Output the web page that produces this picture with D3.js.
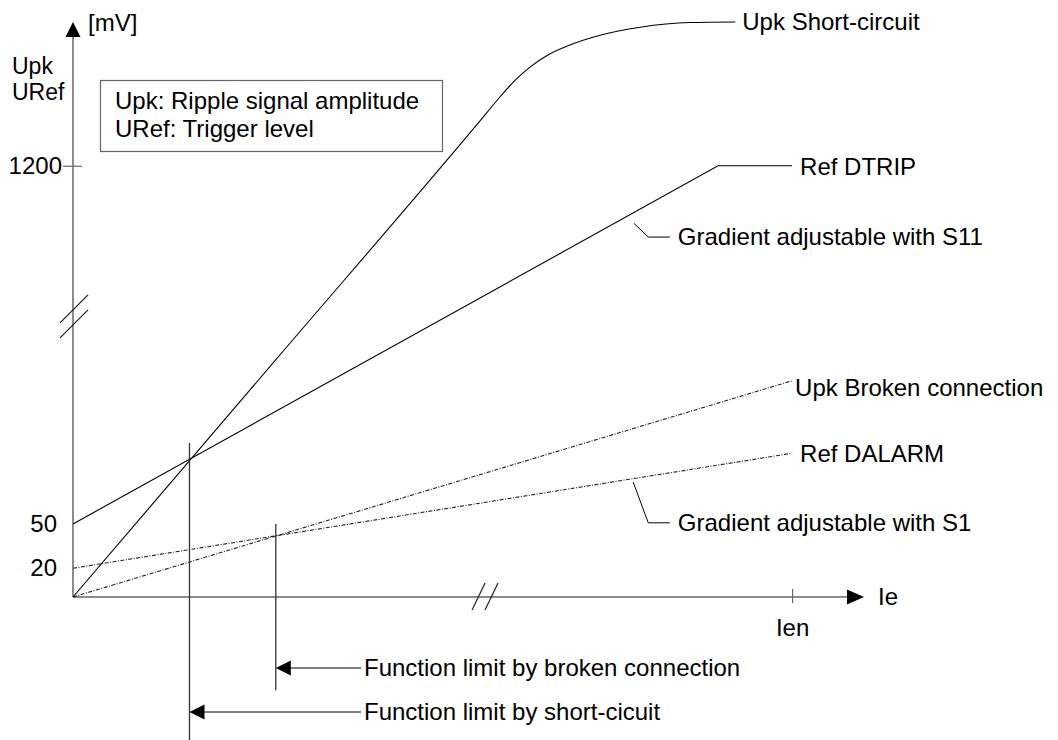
<!DOCTYPE html>
<html>
<head>
<meta charset="utf-8">
<script src="https://cdn.jsdelivr.net/npm/d3@7"></script>
<style>
  html, body { margin: 0; padding: 0; background: #fff; }
  svg { display: block; }
  text { font-family: "Liberation Sans", Arial, sans-serif; font-size: 24px; fill: #000; }
</style>
</head>
<body>
<svg id="chart" width="1058" height="740"></svg>
<script>
// Schematic units: x = Ie (Ien = 100), y = display height (0..100, axis broken)
const xTickValues = [100];
const xTickLabels = ['Ien'];
const yTickValues = [5, 12.7, 75];
const yTickLabels = ['20', '50', '1200'];

// curves
const upkShortCircuit = [[0, 0], [28.3, 41.4], [56.6, 82.8], [59.4, 87.0], [61.5, 89.9],
  [63.6, 92.2], [66.1, 94.3], [69.1, 96.0], [73.3, 97.7], [78.9, 99.1], [85.8, 99.9], [92.1, 100]];
const refDtrip = [[0, 12.7], [89.7, 75.0], [100, 75.0]];
const upkBroken = [[0, 0], [100, 37.6]];
const refDalarm = [[0, 5], [100, 25]];

// leaders for the gradient notes
const gradS11 = [[78.0, 65.0], [80.0, 62.6], [83.0, 62.6]];
const gradS1 = [[77.9, 20.0], [80.0, 12.9], [83.0, 12.9]];

// function limits (vertical markers)
const limitLabels = ['Function limit by broken connection', 'Function limit by short-cicuit'];
const limitX = [28.2, 16.2];
const limitTop = [12.7, 26.8];
const limitBottom = [-16.2, -26];
const limitArrowY = [-12.35, -20];
const limitLeaderEnd = 40.05;

const svg = d3.select('#chart');
const x = d3.scaleLinear().domain([0, 110]).range([73, 864]);
const y = d3.scaleLinear().domain([0, 100]).range([597, 22]);
const line = d3.line().x(d => x(d[0])).y(d => y(d[1]));

const axisColor = '#666';

// =========================================
// AXES
// =========================================
const axesG = svg.append('g');

axesG.append('line')
  .attr('x1', x(0)).attr('y1', y(0))
  .attr('x2', x(0)).attr('y2', y(100) + 10)
  .attr('stroke', axisColor).attr('stroke-width', 1.5);
axesG.append('path')
  .attr('d', `M${x(0)},${y(100)} L${x(0) - 7.5},${y(100) + 15} L${x(0) + 7.5},${y(100) + 15} Z`)
  .attr('fill', '#000');

axesG.append('line')
  .attr('x1', x(0)).attr('y1', y(0))
  .attr('x2', x(110) - 10).attr('y2', y(0))
  .attr('stroke', axisColor).attr('stroke-width', 1.5);
axesG.append('path')
  .attr('d', `M${x(110)},${y(0)} L${x(110) - 17},${y(0) - 7.5} L${x(110) - 17},${y(0) + 7.5} Z`)
  .attr('fill', '#000');

// y ticks via axis, only the 1200 mark keeps a tick line
const yAxisG = axesG.append('g')
  .attr('transform', `translate(${x(0)},0)`)
  .call(d3.axisLeft(y).tickValues(yTickValues).tickSize(0).tickPadding(16)
    .tickFormat((d, i) => yTickLabels[i]));
yAxisG.select('.domain').remove();
yAxisG.selectAll('.tick text').attr('font-size', 24).attr('fill', '#000')
  .attr('font-family', '"Liberation Sans", Arial, sans-serif')
  .attr('dx', (d, i) => i === 2 ? 5 : 0);
yAxisG.selectAll('.tick').filter((d, i) => i === 2).append('line')
  .attr('x1', -10).attr('x2', 9).attr('stroke', axisColor).attr('stroke-width', 1.2);

const xAxisG = axesG.append('g')
  .attr('transform', `translate(0,${y(0)})`)
  .call(d3.axisBottom(x).tickValues(xTickValues).tickSize(0).tickPadding(22)
    .tickFormat((d, i) => xTickLabels[i]));
xAxisG.select('.domain').remove();
xAxisG.selectAll('.tick text').attr('font-size', 24).attr('fill', '#000')
  .attr('font-family', '"Liberation Sans", Arial, sans-serif');
xAxisG.selectAll('.tick').append('line')
  .attr('y1', -8).attr('y2', 6).attr('stroke', axisColor).attr('stroke-width', 1.2);

// break marks
[50.1, 47.5].forEach(v => {
  axesG.append('line')
    .attr('x1', x(0) - 13).attr('y1', y(v) + 14)
    .attr('x2', x(0) + 15).attr('y2', y(v) - 14)
    .attr('stroke', '#222').attr('stroke-width', 1.2);
});
[56.4, 58.2].forEach(v => {
  axesG.append('line')
    .attr('x1', x(v) - 6.5).attr('y1', y(0) + 13)
    .attr('x2', x(v) + 6.5).attr('y2', y(0) - 14)
    .attr('stroke', '#222').attr('stroke-width', 1.2);
});

// axis captions
axesG.append('text').attr('x', x(0) + 15).attr('y', 31).text('[mV]');
axesG.append('text').attr('x', 12).attr('y', 74).style('font-size', '23px').text('Upk');
axesG.append('text').attr('x', 12).attr('y', 100).style('font-size', '23px').text('URef');
axesG.append('text').attr('x', x(110) + 14).attr('y', y(0) + 8).text('Ie');

// legend box
svg.append('rect')
  .attr('x', 100.5).attr('y', 80.5).attr('width', 342).attr('height', 71)
  .attr('fill', 'none').attr('stroke', axisColor).attr('stroke-width', 1.2);
svg.append('text').attr('x', 115).attr('y', 109).text('Upk: Ripple signal amplitude');
svg.append('text').attr('x', 115).attr('y', 137).text('URef: Trigger level');

// =========================================
// CURVES
// =========================================
const curvesG = svg.append('g').attr('fill', 'none');

curvesG.append('path')
  .attr('d', line.curve(d3.curveMonotoneX)(upkShortCircuit))
  .attr('stroke', '#000').attr('stroke-width', 1.1);
line.curve(d3.curveLinear);

curvesG.append('path').attr('d', line(refDtrip))
  .attr('stroke', '#000').attr('stroke-width', 1.1);

[upkBroken, refDalarm].forEach(pts => {
  curvesG.append('path').attr('d', line(pts))
    .attr('stroke', '#222').attr('stroke-width', 1.1)
    .attr('stroke-dasharray', '4,1.5,1,1.5');
});

[gradS11, gradS1].forEach(pts => {
  curvesG.append('path').attr('d', line(pts))
    .attr('stroke', '#000').attr('stroke-width', 1);
});

// curve labels
const lastOf = arr => arr[arr.length - 1];
svg.append('text').attr('x', x(lastOf(upkShortCircuit)[0]) + 7).attr('y', y(lastOf(upkShortCircuit)[1]) + 8)
  .text('Upk Short-circuit');
svg.append('text').attr('x', x(lastOf(refDtrip)[0]) + 8).attr('y', y(lastOf(refDtrip)[1]) + 9)
  .text('Ref DTRIP');
svg.append('text').attr('x', x(lastOf(gradS11)[0]) + 8).attr('y', y(lastOf(gradS11)[1]) + 8)
  .text('Gradient adjustable with S11');
svg.append('text').attr('x', x(lastOf(upkBroken)[0]) + 3).attr('y', y(lastOf(upkBroken)[1]) + 15)
  .text('Upk Broken connection');
svg.append('text').attr('x', x(lastOf(refDalarm)[0]) + 8).attr('y', y(lastOf(refDalarm)[1]) + 9)
  .text('Ref DALARM');
svg.append('text').attr('x', x(lastOf(gradS1)[0]) + 8).attr('y', y(lastOf(gradS1)[1]) + 8)
  .text('Gradient adjustable with S1');

// =========================================
// FUNCTION LIMITS
// =========================================
const limitsG = svg.append('g');
limitLabels.forEach((label, i) => {
  const lx = x(limitX[i]);
  const ay = y(limitArrowY[i]);
  limitsG.append('line')
    .attr('x1', lx).attr('y1', y(limitTop[i]))
    .attr('x2', lx).attr('y2', y(limitBottom[i]))
    .attr('stroke', '#333').attr('stroke-width', 1.3);
  limitsG.append('line')
    .attr('x1', lx + 10).attr('y1', ay)
    .attr('x2', x(limitLeaderEnd)).attr('y2', ay)
    .attr('stroke', '#000').attr('stroke-width', 1);
  limitsG.append('path')
    .attr('d', `M${lx},${ay} L${lx + 15},${ay - 7.5} L${lx + 15},${ay + 7.5} Z`)
    .attr('fill', '#000');
  limitsG.append('text')
    .attr('x', x(limitLeaderEnd) + 3).attr('y', ay + 8)
    .text(label);
});
</script>
</body>
</html>
